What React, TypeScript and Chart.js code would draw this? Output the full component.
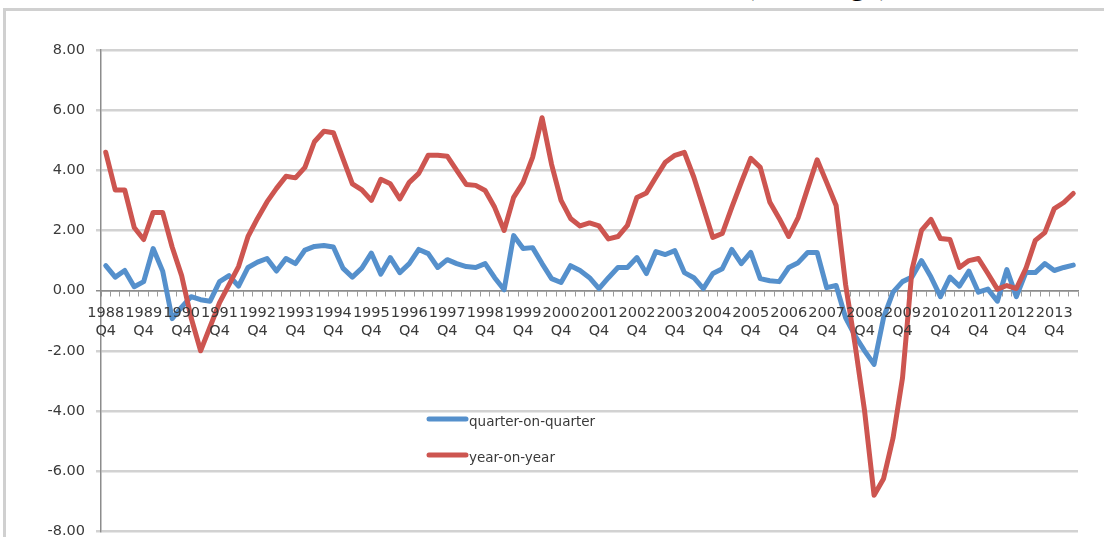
import React, { useEffect, useRef } from 'react';
import { Chart, registerables } from 'chart.js';

Chart.register(...registerables);

// ---- data ----
const startYear = 1988; // first category is 1988 Q4
const quarterLabels: string[] = Array.from({ length: 103 }, (_, i) => {
  const q = ((3 + i) % 4) + 1;
  const y = startYear + Math.floor((3 + i) / 4);
  return `${y} Q${q}`;
});

const quarterOnQuarter: number[] = [
  0.83, 0.45, 0.67, 0.13, 0.3, 1.4, 0.65, -0.93, -0.55, -0.2,
  -0.3, -0.35, 0.3, 0.5, 0.15, 0.77, 0.95, 1.07, 0.65, 1.07,
  0.9, 1.35, 1.47, 1.5, 1.45, 0.75, 0.45, 0.75, 1.25, 0.55,
  1.1, 0.6, 0.9, 1.37, 1.23, 0.77, 1.03, 0.9, 0.8, 0.77,
  0.9, 0.43, 0.03, 1.83, 1.4, 1.43, 0.9, 0.4, 0.27, 0.83,
  0.67, 0.43, 0.07, 0.43, 0.77, 0.77, 1.1, 0.57, 1.3, 1.2,
  1.33, 0.6, 0.43, 0.07, 0.57, 0.73, 1.37, 0.9, 1.27, 0.4,
  0.33, 0.3, 0.77, 0.93, 1.27, 1.27, 0.1, 0.17, -0.9, -1.5,
  -2.0, -2.45, -0.9, -0.05, 0.3, 0.45, 1.0, 0.45, -0.2, 0.45,
  0.15, 0.65, -0.05, 0.05, -0.35, 0.7, -0.2, 0.6, 0.6, 0.9,
  0.67, 0.77, 0.85,
];

const yearOnYear: number[] = [
  4.6, 3.35, 3.35, 2.1, 1.7, 2.6, 2.6, 1.45, 0.5, -0.9,
  -2.0, -1.2, -0.4, 0.2, 0.8, 1.8, 2.4, 2.95, 3.4, 3.8,
  3.75, 4.1, 4.95, 5.3, 5.25, 4.4, 3.55, 3.35, 3.0, 3.7,
  3.55, 3.05, 3.6, 3.9, 4.5, 4.5, 4.47, 4.0, 3.53, 3.5,
  3.33, 2.77, 2.0, 3.1, 3.6, 4.43, 5.75, 4.2, 3.0, 2.4,
  2.15, 2.25, 2.15, 1.72, 1.8, 2.17, 3.1, 3.25, 3.77, 4.27,
  4.5, 4.6, 3.77, 2.77, 1.77, 1.9, 2.77, 3.6, 4.4, 4.1,
  2.95, 2.4, 1.8, 2.43, 3.4, 4.35, 3.6, 2.83, 0.2, -1.8,
  -4.0, -6.8, -6.25, -4.9, -2.9, 0.7, 2.0, 2.37, 1.73, 1.7,
  0.77, 1.0, 1.07, 0.57, 0.05, 0.17, 0.07, 0.73, 1.67, 1.93,
  2.73, 2.93, 3.23,
];

const seriesNames = ['quarter-on-quarter', 'year-on-year'];
const yMin = -8;
const yMax = 8;
const yStep = 2;
const labelEvery = 4;
const titleText = 'Quarter on Q (% change)';

// ---- styles ----
const BLUE = '#5590cc';
const RED = '#cd5550';
const FONT = 'DejaVu Sans';
const TEXT = '#3a3a3a';

// category labels drawn just under the zero line (two lines: year / quarter)
const xLabelPlugin = {
  id: 'xLabelsAtZero',
  afterDraw(chart: any) {
    const ctx = chart.ctx;
    const xs = chart.scales.x;
    const y0 = chart.scales.y.getPixelForValue(0);
    ctx.save();
    ctx.fillStyle = TEXT;
    ctx.font = `14.5px "${FONT}"`;
    ctx.textAlign = 'center';
    ctx.textBaseline = 'middle';
    quarterLabels.forEach((lab, i) => {
      if (i % labelEvery !== 0) return;
      const [yr, q] = lab.split(' ');
      const x = xs.getPixelForValue(i);
      ctx.fillText(yr, x, y0 + 23);
      ctx.fillText(q, x, y0 + 41);
    });
    ctx.restore();
  },
};

const legendPlugin = {
  id: 'insideLegend',
  afterDatasetsDraw(chart: any) {
    const ctx = chart.ctx;
    const items = [
      { label: seriesNames[0], color: BLUE, y: 419 },
      { label: seriesNames[1], color: RED, y: 455 },
    ];
    ctx.save();
    items.forEach((it) => {
      ctx.strokeStyle = it.color;
      ctx.lineWidth = 5;
      ctx.lineCap = 'round';
      ctx.beginPath();
      ctx.moveTo(429, it.y);
      ctx.lineTo(466, it.y);
      ctx.stroke();
      ctx.fillStyle = TEXT;
      ctx.font = `13.5px "${FONT}"`;
      ctx.textBaseline = 'middle';
      ctx.textAlign = 'left';
      ctx.fillText(it.label, 469, it.y + 3);
    });
    ctx.restore();
  },
};

export default function App() {
  const ref = useRef<HTMLCanvasElement>(null);

  useEffect(() => {
    if (!ref.current) return;
    const chart = new Chart(ref.current, {
      type: 'line',
      data: {
        labels: quarterLabels,
        datasets: [
          {
            label: seriesNames[0],
            data: quarterOnQuarter,
            borderColor: BLUE,
            backgroundColor: BLUE,
            borderWidth: 5,
            pointRadius: 0,
            tension: 0,
            borderJoinStyle: 'round',
            borderCapStyle: 'round',
            order: 1,
          },
          {
            label: seriesNames[1],
            data: yearOnYear,
            borderColor: RED,
            backgroundColor: RED,
            borderWidth: 5,
            pointRadius: 0,
            tension: 0,
            borderJoinStyle: 'round',
            borderCapStyle: 'round',
            order: 0,
          },
        ],
      },
      options: {
        animation: false,
        responsive: false,
        events: [],
        layout: { padding: { top: 50, right: 26, bottom: 15, left: 0 } },
        plugins: { legend: { display: false }, tooltip: { enabled: false }, title: { display: false } },
        scales: {
          x: {
            type: 'category',
            position: { y: 0 },
            offset: true,
            afterFit: (s: any) => {
              s.height = 0;
              s.paddingTop = 0;
              s.paddingBottom = 0;
            },
            grid: {
              display: true,
              drawOnChartArea: false,
              drawTicks: true,
              tickLength: 5,
              color: '#9a9a9a',
              lineWidth: 1,
              offset: true,
            },
            border: { display: true, color: '#8c8c8c', width: 1.5 },
            ticks: { display: false, autoSkip: false },
          },
          y: {
            min: yMin,
            max: yMax,
            afterFit: (s: any) => {
              s.width = 101;
            },
            grid: {
              color: (c: any) => (c.tick && c.tick.value === 0 ? '#8c8c8c' : '#d2d2d2'),
              lineWidth: (c: any) => (c.tick && c.tick.value === 0 ? 1.5 : 2.5),
              tickLength: 5,
            },
            border: { display: true, color: '#8c8c8c', width: 1.5 },
            ticks: {
              stepSize: yStep,
              padding: 11,
              color: TEXT,
              font: { family: FONT, size: 14.5 },
              callback: (v: any) => Number(v).toFixed(2),
            },
          },
        },
      },
      plugins: [xLabelPlugin, legendPlugin],
    });
    return () => chart.destroy();
  }, []);

  return (
    <div
      style={{
        position: 'fixed',
        left: 0,
        top: 0,
        width: 1104,
        height: 537,
        overflow: 'hidden',
        background: '#fff',
      }}
    >
      <div
        style={{
          position: 'absolute',
          left: 3,
          top: 8,
          width: 1200,
          height: 700,
          borderLeft: '3px solid #d0d0d0',
          borderTop: '3px solid #d0d0d0',
        }}
      />
      <div
        style={{
          position: 'absolute',
          left: 567,
          top: -35,
          font: '32px "Liberation Serif", serif',
          color: '#000',
          whiteSpace: 'nowrap',
        }}
      >
        {titleText}
      </div>
      <canvas ref={ref} width={1104} height={551} style={{ position: 'absolute', left: 0, top: 0 }} />
    </div>
  );
}
